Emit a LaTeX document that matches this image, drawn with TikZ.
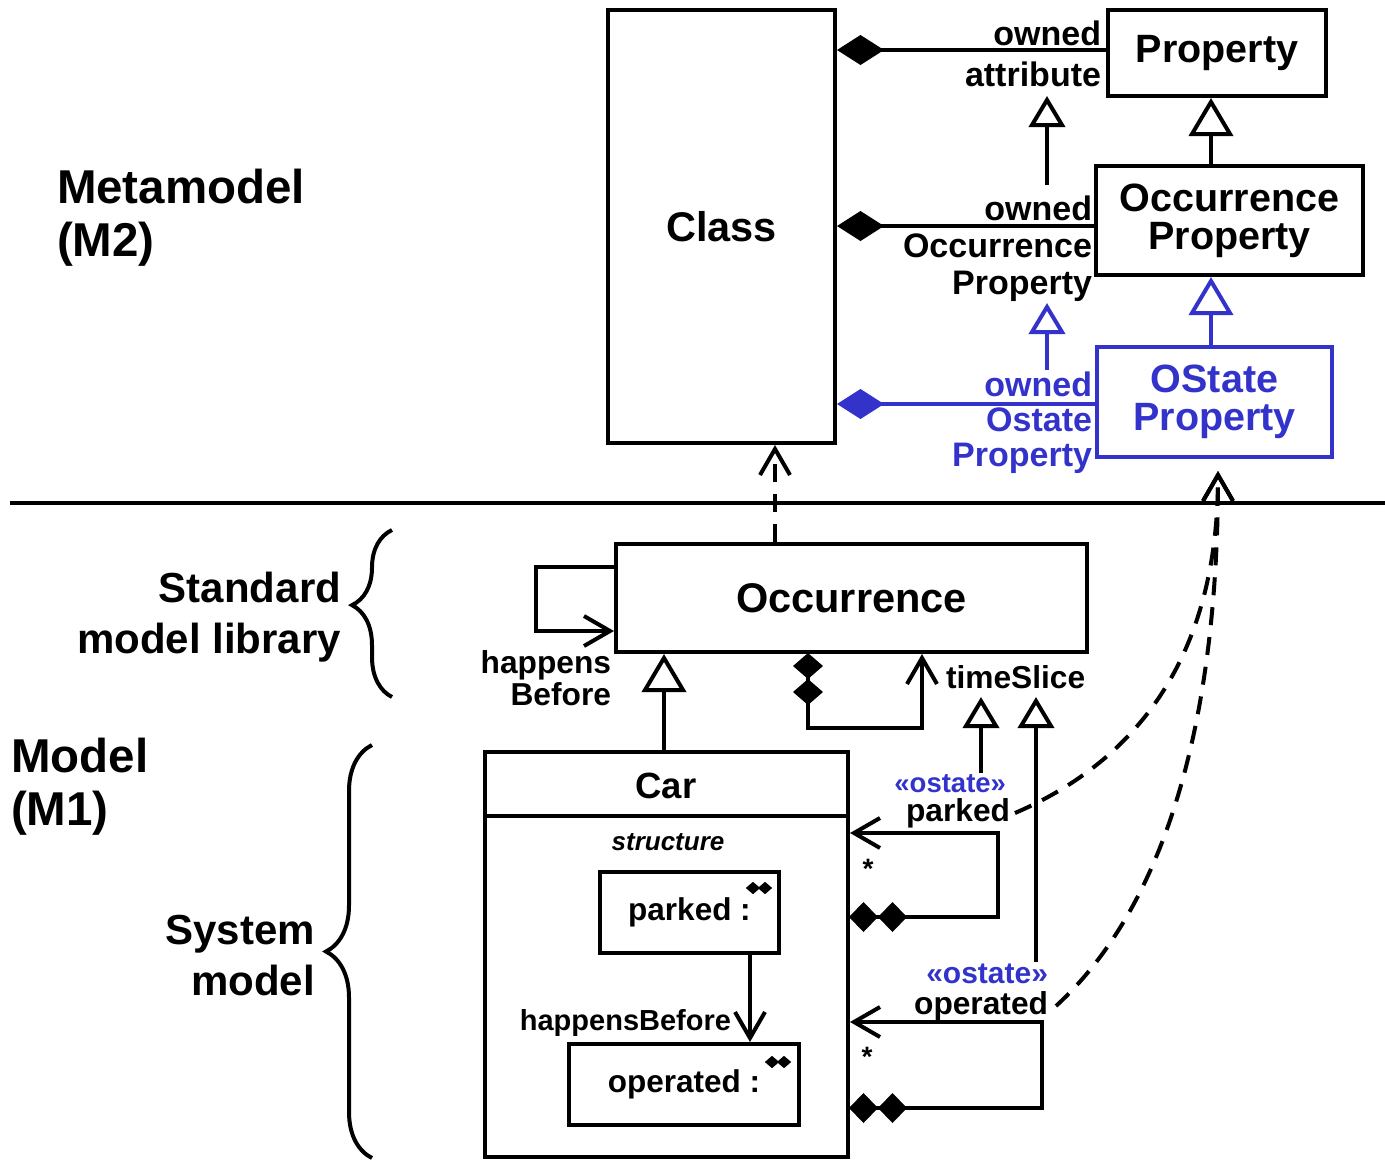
\documentclass[tikz,border=0pt]{standalone}
\usepackage{fontspec}
\setmainfont{Liberation Sans}
\usepackage{xcolor}
\usepackage{tikz}
\usetikzlibrary{arrows.meta, shapes.geometric, calc, decorations.pathreplacing}
\definecolor{ostblue}{RGB}{51,51,204}

\begin{document}
\begin{tikzpicture}[
        x=1pt, y=-1pt,
        line width=4pt,
        box/.style={draw, align=center, inner sep=0pt, font=\fontsize{#1}{38}\selectfont\bfseries},
        box/.default=39.5,
        role/.style={inner sep=0pt, align=right, anchor=east, font=\fontsize{34}{37}\selectfont\bfseries},
        lbl/.style={inner sep=0pt, align=right, font=\fontsize{#1}{32}\selectfont\bfseries},
        lbl/.default=31.7,
        stereo/.style={inner sep=0pt, anchor=east, text=ostblue, font=\fontsize{#1}{#1}\selectfont\bfseries},
        level/.style={inner sep=0pt, align=left, anchor=west, font=\fontsize{47.5}{53}\selectfont\bfseries},
        side/.style={inner sep=0pt, align=right, anchor=east, font=\fontsize{42}{51}\selectfont\bfseries},
        gem/.style={diamond, fill, inner sep=0pt, minimum width=16pt, minimum height=14pt},
        gen/.style={-{Triangle[open, length=38pt, width=44pt]}},
        sgen/.style={-{Triangle[open, length=31pt, width=36pt]}},
        comp/.style={{Diamond[length=47pt, width=30pt]}-},
        nav/.style={-{Straight Barb[length=26pt, width=30pt]}},
        dep/.style={nav, dash pattern=on 18pt off 12pt},
        dcomp/.style={{Diamond[length=#1, width=30pt, sep=-1pt] Diamond[length=#1, width=30pt]}-{Straight Barb[length=26pt, width=30pt]}},
        dcomp/.default=29pt,
        brc/.style={decorate, decoration={brace, amplitude=#1}},
    ]
    \useasboundingbox (0,0) rectangle (1385,1160);

    % Level labels
    \node[level] (m2) at (55,218) {Metamodel\\(M2)};
    \node[level] (m1) at (9,787) {Model\\(M1)};
    \node[side] (sml) at (343,617) {Standard\\model library};
    \node[side] (sys) at (317,956) {System\\model};
    \draw[brc=40pt, decoration={aspect=0.55}] (392,697) -- (392,530);
    \draw[brc=46pt] (372,1158) -- (372,745);
    \draw (10,503) -- (1385,503);

    % Metamodel (M2)
    \node[box=41.5, minimum width=227pt, minimum height=433pt] (cls) at (721.5,226.5) {Class};
    \node[box, minimum width=218pt, minimum height=86pt] (prop) at (1217,53) {Property};
    \node[box, minimum width=267pt, minimum height=109pt] (ocp) at (1229.5,220.5) {Occurrence\\Property};
    \node[box, ostblue, minimum width=235pt, minimum height=110pt] (osp) at (1214.5,402) {OState\\Property};

    % Owned ends
    \node[role] (attlbl) at (1103,54) {owned\\[4pt]attribute};
    \node[role] (ocplbl) at (1094,249) {owned\\Occurrence\\Property};
    \node[role, ostblue, font=\fontsize{34}{35}\selectfont\bfseries] (osplbl) at (1094,423) {owned\\Ostate\\Property};
    \foreach \b/\s/\c in {prop/3/black, ocp/-5.5/black, osp/-2/ostblue}
        \draw[comp, \c] ([yshift=\s]cls.east |- \b.west) -- ([yshift=\s]\b.west);

    % Generalization and subsetting
    \draw[gen] ([xshift=-18.5pt]ocp.north) -- ([xshift=-18.5pt]ocp.north |- prop.south);
    \draw[gen, ostblue] ([xshift=-3.5pt]osp.north) -- ([xshift=-3.5pt]osp.north |- ocp.south);
    \coordinate (s1) at (1047,96);
    \coordinate (s2) at (1047,303);
    \draw[sgen] ([yshift=9pt]s1 |- ocplbl.north) -- (s1);
    \draw[sgen, ostblue] (s2 |- osplbl.north) -- (s2);

    % Standard model library
    \node[box=41.5, minimum width=471pt, minimum height=108pt] (occ) at (851.5,598) {Occurrence};
    \draw[dep] ([xshift=-76.5pt]occ.north) -- ([xshift=-76.5pt]occ.north |- cls.south);
    \draw[nav] ([yshift=31pt]occ.west) -- ++(-78,0) |- ([yshift=-33pt]occ.west);
    \node[lbl, anchor=east] (hblbl) at (613,678) {happens\\Before};
    \draw[dcomp=26pt] ([xshift=-43.5pt]occ.south) -- ++(0,74) -| ([xshift=70.5pt]occ.south);
    \node[lbl, anchor=west] (tslbl) at (944,677) {timeSlice};

    % System model
    \node[draw, minimum width=363pt, minimum height=405pt] (car) at (666.5,954.5) {};
    \node[lbl=36.5] (carname) at (666,786) {Car};
    \draw ([yshift=-66pt]car.north west) -- ([yshift=-66pt]car.north east);
    \node[inner sep=0pt, font=\fontsize{26}{26}\selectfont\bfseries\itshape] (struct) at (668,842) {structure};
    \node[box=31.5, minimum width=179pt, minimum height=81pt] (pk) at (689.5,912.5) {parked :};
    \node[box=31.5, minimum width=230pt, minimum height=81pt] (op) at (684,1084.5) {operated :};
    \foreach \n/\x/\y in {pkA/753/888, pkB/765/888, opA/772/1062, opB/784/1062}
        \node[gem] (\n) at (\x,\y) {};
    \draw[nav] ([xshift=60.5pt]pk.south) -- ([xshift=60.5pt]pk.south |- op.north);
    \node[lbl=29, anchor=east] (hb) at (733,1023) {happensBefore};

    \draw[gen] ([xshift=-2.5pt]car.north) -- ([xshift=-2.5pt]car.north |- occ.south);
    \draw[dcomp] ([yshift=37.5pt]car.east) -- ++(148,0) |- ([yshift=121.5pt]car.east);
    \draw[dcomp] ([yshift=-153.5pt]car.east) -- ++(192,0) |- ([yshift=-67.5pt]car.east);
    \node[lbl=28] (pkstar) at (868,869) {*};
    \node[lbl=28] (opstar) at (867,1057) {*};

    % ostate features
    \node[stereo=27.5] (pst) at (1008,784) {«ostate»};
    \node[lbl, anchor=east] (plbl) at (1012,813) {parked};
    \node[stereo=30] (ost) at (1050,974) {«ostate»};
    \node[lbl, anchor=east] (olbl) at (1050,1006) {operated};
    \coordinate (ts1) at (981,697);
    \coordinate (ts2) at (1036,697);
    \draw[sgen] (ts1 |- pst.north) -- (ts1);
    \draw[sgen] (ts2 |- ost.north) -- (ts2);
    \coordinate (ospin) at ([xshift=3.5pt,yshift=-12pt]osp.south);
    \draw[dep] ([xshift=3pt]plbl.east) .. controls +(135,-58) and +(0,170) .. (ospin);
    \draw[dep] ([xshift=6pt]olbl.east) .. controls +(125,-115) and +(0,210) .. (ospin);
\end{tikzpicture}
\end{document}
